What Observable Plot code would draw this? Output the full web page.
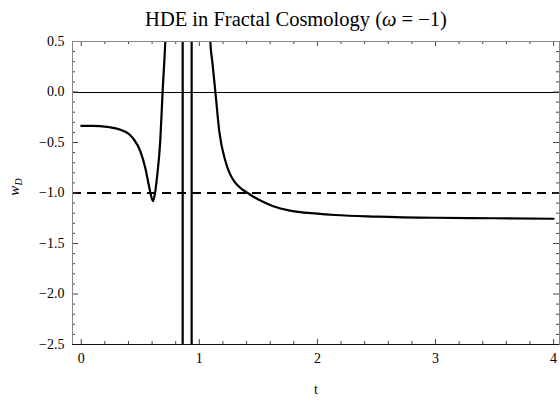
<!DOCTYPE html>
<html><head><meta charset="utf-8">
<script src="https://cdn.jsdelivr.net/npm/d3@7"></script>
<script src="https://cdn.jsdelivr.net/npm/@observablehq/plot@0.6"></script>
<style>body{margin:0;background:#fff}</style>
</head><body><div id="chart"></div>
<script>
// Curve samples (t, w_D) per branch; the pole crossings are drawn as vertical jumps, clipped by the frame
const branchA_T = [0, 0.1, 0.2, 0.246, 0.3, 0.358, 0.4, 0.443, 0.5, 0.542, 0.571, 0.59, 0.607, 0.625, 0.641, 0.669, 0.689, 0.712, 0.735];
const branchA_W = [-0.335, -0.336, -0.342, -0.35, -0.362, -0.385, -0.412, -0.465, -0.585, -0.75, -0.916, -1.02, -1.08, -1.0, -0.85, -0.486, 0, 0.5, 1.2];
const jump1_T = [0.859, 0.859];
const jump1_W = [100, -100];
const jump2_T = [0.935, 0.935];
const jump2_W = [-100, 100];
const branchB_T = [1.075, 1.093, 1.11, 1.136, 1.169, 1.22, 1.25, 1.29, 1.32, 1.35, 1.38, 1.41, 1.47, 1.53, 1.62, 1.757, 2.0, 2.15, 2.5, 3.0, 3.5, 4.0];
const branchB_W = [1.2, 0.5, 0.3, 0, -0.39, -0.68, -0.785, -0.875, -0.918, -0.952, -0.978, -1.0, -1.045, -1.082, -1.128, -1.172, -1.205, -1.218, -1.233, -1.245, -1.25, -1.255];
const refLevels = [-1];
const zeroLevel = [0];
const xMajor = [0, 1, 2, 3, 4];
const xMinor = d3.range(1, 20).map(i => i * 0.2).filter(v => Math.abs(v - Math.round(v)) > 1e-6);
const yMajor = [-2.5, -2.0, -1.5, -1.0, -0.5, 0.0, 0.5];
const yMinor = d3.range(-24, 5).map(i => i / 10).filter(v => Math.abs(v * 2 - Math.round(v * 2)) > 1e-6);

const rows = (T, Wv, b) => T.map((t, i) => ({t, w: Wv[i], b}));
const smooth = [...rows(branchA_T, branchA_W, "a"), ...rows(branchB_T, branchB_W, "b")];
const jumps = [...rows(jump1_T, jump1_W, "p1"), ...rows(jump2_T, jump2_W, "p2")];
const W = 560, H = 402, mL = 72, mR = 1, mT = 41, mB = 58;
const fw = W - mL - mR, fh = H - mT - mB;
const fmt = d => d.toFixed(1).replace("-", "\u2212");
const tickCol = "#444";

const plot = Plot.plot({
  width: W, height: H,
  marginLeft: mL, marginRight: mR, marginTop: mT, marginBottom: mB,
  style: {fontFamily: "Liberation Serif, Times New Roman, serif", background: "#fff", color: "#000"},
  x: {domain: [-0.074, 4.05]},
  y: {domain: [-2.5, 0.5]},
  marks: [
    Plot.ruleY(zeroLevel, {y: d => d, stroke: "#000", strokeWidth: 1, shapeRendering: "crispEdges"}),
    Plot.ruleY(refLevels, {y: d => d, stroke: "#000", strokeWidth: 2.2, strokeDasharray: "9,6"}),
    Plot.line(smooth, {x: "t", y: "w", z: "b", stroke: "#000", strokeWidth: 2.2, curve: "monotone-x", clip: true}),
    Plot.line(jumps, {x: "t", y: "w", z: "b", stroke: "#000", strokeWidth: 2.2, clip: true}),
    // ticks (inward, on all four sides)
    Plot.ruleX(xMajor, {x: d => d, insetTop: fh - 5, stroke: tickCol}),
    Plot.ruleX(xMinor, {x: d => d, insetTop: fh - 3, stroke: tickCol}),
    Plot.ruleX(xMajor, {x: d => d, insetBottom: fh - 5, stroke: tickCol}),
    Plot.ruleX(xMinor, {x: d => d, insetBottom: fh - 3, stroke: tickCol}),
    Plot.ruleY(yMajor, {y: d => d, insetRight: fw - 6, stroke: tickCol}),
    Plot.ruleY(yMinor, {y: d => d, insetRight: fw - 3, stroke: tickCol}),
    Plot.ruleY(yMajor, {y: d => d, insetLeft: fw - 6, stroke: tickCol}),
    Plot.ruleY(yMinor, {y: d => d, insetLeft: fw - 3, stroke: tickCol}),
    Plot.frame({stroke: "#888", strokeWidth: 1}),
    Plot.ruleY([-2.5], {y: d => d, stroke: "#111", strokeWidth: 1}),
    Plot.axisX({ticks: xMajor, tickSize: 0, tickPadding: 9, tickFormat: d => String(d), fontSize: 14, label: null}),
    Plot.axisY({ticks: yMajor, tickSize: 0, tickPadding: 8, tickFormat: fmt, fontSize: 14, label: null})
  ]
});

const svg = d3.select(plot);
svg.append("text")
  .attr("x", 296).attr("y", 26).attr("text-anchor", "middle")
  .attr("font-size", 20.5).attr("fill", "#000")
  .call(t => {
    t.append("tspan").text("HDE in Fractal Cosmology (");
    t.append("tspan").attr("font-style", "italic").text("\u03c9");
    t.append("tspan").text(" = \u22121)");
  });
svg.append("text")
  .attr("transform", "translate(19,187) rotate(-90)").attr("text-anchor", "middle")
  .attr("font-size", 15).attr("fill", "#000")
  .call(t => {
    t.append("tspan").attr("font-style", "italic").text("w");
    t.append("tspan").attr("font-style", "italic").attr("font-size", 10).attr("dy", 3).text("D");
  });
svg.append("text")
  .attr("x", 316).attr("y", 394).attr("text-anchor", "middle")
  .attr("font-size", 14).attr("fill", "#000").text("t");

document.getElementById("chart").append(plot);
</script>
</body></html>
